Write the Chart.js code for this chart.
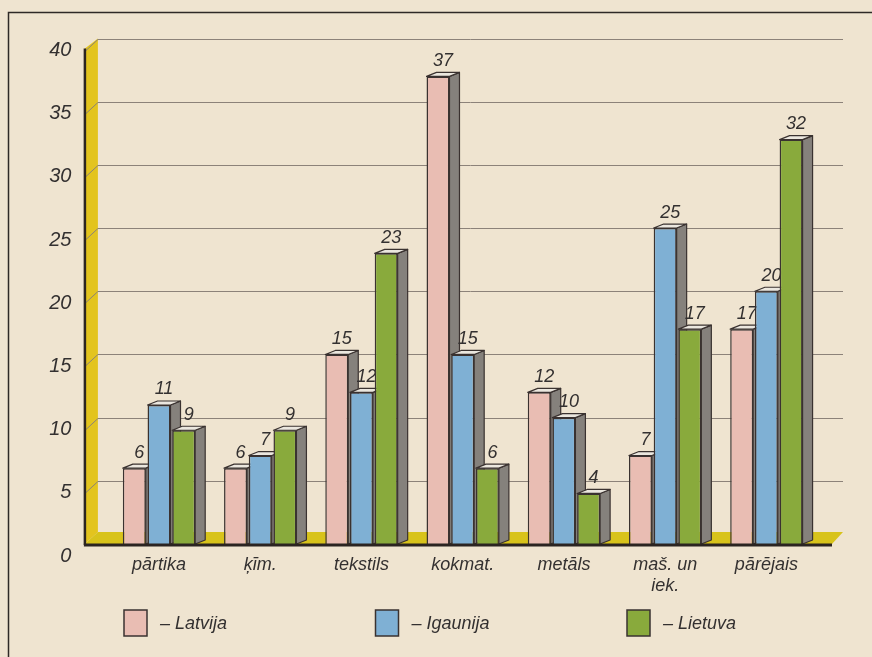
<!DOCTYPE html>
<html>
<head>
<meta charset="utf-8">
<script src="https://cdn.jsdelivr.net/npm/chart.js@4.4.1/dist/chart.umd.min.js"></script>
<style>
  html, body { margin: 0; padding: 0; background: #efe4d0; }
  canvas { display: block; }
</style>
</head>
<body>
<canvas id="chart" width="872" height="657"></canvas>
<script>
// nozares (kategorijas) un vērtības pa valstīm
const categories = ['pārtika', 'ķīm.', 'tekstils', 'kokmat.', 'metāls', ['maš. un', 'iek.'], 'pārējais'];
const latvija  = [6, 6, 15, 37, 12, 7, 17];
const igaunija = [11, 7, 12, 15, 10, 25, 20];
const lietuva  = [9, 9, 23, 6, 4, 17, 32];
const yTickValues = [0, 5, 10, 15, 20, 25, 30, 35, 40];
const seriesNames = ['Latvija', 'Igaunija', 'Lietuva'];

const FONT = "'Liberation Sans', Arial, Helvetica, sans-serif";
const BG = '#efe4d0';
const EDGE = '#3a3230';
const INK = '#333030';
const SERIES_COLORS = ['#e9bdb3', '#7fb0d4', '#89aa3c'];

// 3D "dziļums": stabiņiem un sienai/grīdai
const BAR_DX = 10, BAR_DY = 4;
const WALL_DX = 13, WALL_DY = 10;

function poly(ctx, pts, fill, stroke, lw) {
    ctx.beginPath();
    ctx.moveTo(pts[0][0], pts[0][1]);
    for (let k = 1; k < pts.length; k++) ctx.lineTo(pts[k][0], pts[k][1]);
    ctx.closePath();
    if (fill) { ctx.fillStyle = fill; ctx.fill(); }
    if (stroke) { ctx.strokeStyle = stroke; ctx.lineWidth = lw || 1; ctx.stroke(); }
}

const scene3d = {
    id: 'scene3d',
    beforeDraw(chart) {
        const { ctx, width, height } = chart;
        ctx.save();
        ctx.fillStyle = BG;
        ctx.fillRect(0, 0, width, height);
        // rāmis (tikai kreisā un augšējā mala redzama)
        ctx.strokeStyle = '#2e2926';
        ctx.lineWidth = 1.5;
        ctx.beginPath();
        ctx.moveTo(8.5, height);
        ctx.lineTo(8.5, 12.5);
        ctx.lineTo(width, 12.5);
        ctx.stroke();
        ctx.restore();
    },
    beforeDatasetsDraw(chart) {
        const { ctx, chartArea: a, scales: { y } } = chart;
        const x0 = a.left - 23.5;      // priekšējā siena (ass līnija)
        const x1 = x0 + WALL_DX;       // aizmugure
        const base = y.getPixelForValue(0);
        const top = y.getPixelForValue(40);
        const rightBack = a.right + 26, rightFront = a.right + 15;
        ctx.save();
        // dzeltenā siena un grīda
        poly(ctx, [[x0, top + WALL_DY], [x1, top], [x1, base - 12], [x0, base]], '#e3c41e');
        poly(ctx, [[x0, base], [x1, base - 12], [rightBack, base - 12], [rightFront, base]], '#d8c31b');
        // režģa līnijas uz aizmugurējās sienas
        ctx.strokeStyle = '#8c8279';
        ctx.lineWidth = 1;
        yTickValues.forEach(v => {
            if (v === 0) return;
            const py = Math.round(y.getPixelForValue(v)) + 0.5;
            ctx.beginPath();
            ctx.moveTo(x0, py + WALL_DY + 2);
            ctx.lineTo(x1, py);
            ctx.lineTo(rightBack, py);
            ctx.stroke();
        });
        // stabiņu sānu un augšējās skaldnes
        ctx.lineJoin = 'round';
        for (let i = 0; i < categories.length; i++) {
            chart.data.datasets.forEach((ds, d) => {
                const bar = chart.getDatasetMeta(d).data[i];
                const l = bar.x - bar.width / 2, r = bar.x + bar.width / 2;
                const t = bar.y, b = bar.base;
                poly(ctx, [[r, t], [r + BAR_DX, t - BAR_DY], [r + BAR_DX, b - BAR_DY], [r, b]], '#85817c', EDGE, 1.2);
                poly(ctx, [[l, t], [l + BAR_DX, t - BAR_DY], [r + BAR_DX, t - BAR_DY], [r, t]], '#ebe7df', EDGE, 1.2);
            });
        }
        // vērtību uzraksti (aiz stabiņu priekšpuses)
        ctx.fillStyle = INK;
        ctx.font = 'italic 18px ' + FONT;
        ctx.textAlign = 'center';
        ctx.textBaseline = 'middle';
        chart.data.datasets.forEach((ds, d) => {
            chart.getDatasetMeta(d).data.forEach((bar, i) => {
                ctx.fillText(String(ds.data[i]), bar.x + BAR_DX / 2, bar.y - 15.5);
            });
        });
        ctx.restore();
    },
    afterDatasetsDraw(chart) {
        const { ctx, chartArea: a, scales: { y } } = chart;
        const x0 = a.left - 23.5;
        const base = y.getPixelForValue(0);
        const top = y.getPixelForValue(40);
        ctx.save();
        ctx.strokeStyle = '#2b2421';
        ctx.lineWidth = 3;
        ctx.beginPath();
        ctx.moveTo(x0 - 1, base + 1);
        ctx.lineTo(a.right + 15, base + 1);
        ctx.stroke();
        ctx.lineWidth = 2.5;
        ctx.beginPath();
        ctx.moveTo(x0, top + WALL_DY);
        ctx.lineTo(x0, base + 1);
        ctx.stroke();
        ctx.restore();
    },
    afterDraw(chart) {
        // leģenda
        const { ctx } = chart;
        ctx.save();
        ctx.font = 'italic 18px ' + FONT;
        ctx.textAlign = 'left';
        ctx.textBaseline = 'middle';
        chart.data.datasets.forEach((ds, d) => {
            const bx = 124 + d * 251.5, by = 610;
            ctx.fillStyle = ds.backgroundColor;
            ctx.fillRect(bx, by, 23, 26);
            ctx.strokeStyle = EDGE;
            ctx.lineWidth = 1.5;
            ctx.strokeRect(bx, by, 23, 26);
            ctx.fillStyle = INK;
            ctx.fillText('– ' + ds.label, bx + 36, by + 14);
        });
        ctx.restore();
    }
};

const datasets = [latvija, igaunija, lietuva].map((data, d) => ({
    label: seriesNames[d],
    data: data,
    backgroundColor: SERIES_COLORS[d],
    borderColor: EDGE,
    borderWidth: 1.5,
    categoryPercentage: 0.732,
    barPercentage: 0.93
}));

new Chart(document.getElementById('chart').getContext('2d'), {
    type: 'bar',
    data: { labels: categories, datasets },
    options: {
        responsive: false,
        animation: false,
        devicePixelRatio: 1,
        layout: { padding: { left: 0, right: 55, top: 38.5, bottom: 0 } },
        plugins: {
            legend: { display: false },
            tooltip: { enabled: false }
        },
        scales: {
            x: {
                grid: { display: false, drawTicks: false },
                border: { display: false },
                ticks: {
                    padding: 10,
                    maxRotation: 0,
                    autoSkip: false,
                    color: INK,
                    font: { family: FONT, size: 18, style: 'italic', lineHeight: 1.2 }
                },
                afterFit: s => { s.height = 113; }
            },
            y: {
                min: 0,
                max: 40,
                afterBuildTicks: s => { s.ticks = yTickValues.map(v => ({ value: v })); },
                grid: { display: false, drawTicks: false },
                border: { display: false },
                ticks: {
                    padding: 37,
                    labelOffset: 12,
                    color: INK,
                    font: { family: FONT, size: 20, style: 'italic' }
                },
                afterFit: s => {
                    s.width = 108.4;
                    // tick padding nedrīkst pabīdīt zīmēšanas laukuma augšu
                    s.paddingTop = 0;
                    s.paddingBottom = 0;
                }
            }
        }
    },
    plugins: [scene3d]
});
</script>
</body>
</html>
